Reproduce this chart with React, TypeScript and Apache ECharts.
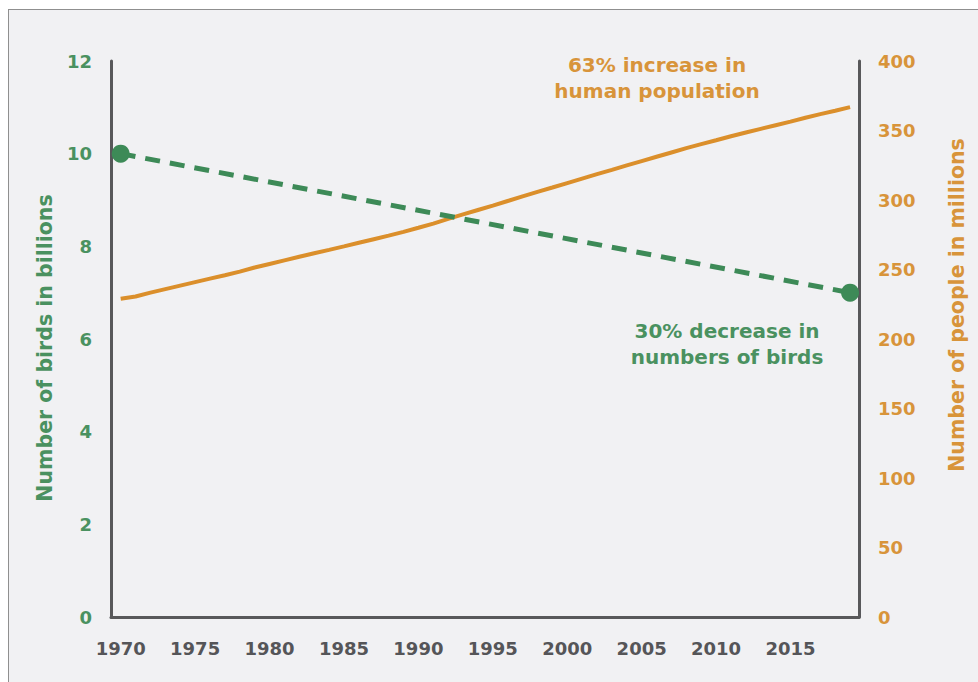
import React, { useEffect, useRef } from "react";
import * as echarts from "echarts";

const years: number[] = [
  1970, 1971, 1972, 1973, 1974, 1975, 1976, 1977, 1978, 1979,
  1980, 1981, 1982, 1983, 1984, 1985, 1986, 1987, 1988, 1989,
  1990, 1991, 1992, 1993, 1994, 1995, 1996, 1997, 1998, 1999,
  2000, 2001, 2002, 2003, 2004, 2005, 2006, 2007, 2008, 2009,
  2010, 2011, 2012, 2013, 2014, 2015, 2016, 2017, 2018, 2019,
];
const population: number[] = [
  229.0, 230.6, 233.4, 235.9, 238.4, 240.9, 243.4, 245.9, 248.5, 251.4,
  254.0, 256.6, 259.2, 261.7, 264.1, 266.6, 269.2, 271.8, 274.4, 277.1,
  280.0, 283.0, 286.4, 289.6, 292.8, 296.0, 299.3, 302.6, 305.9, 309.0,
  312.2, 315.4, 318.6, 321.7, 324.9, 328.0, 331.1, 334.2, 337.3, 340.2,
  343.0, 345.9, 348.6, 351.2, 353.8, 356.4, 359.2, 361.8, 364.2, 366.8,
];
const birdYears: number[] = [1970, 2019];
const birds: number[] = [10, 7];
const xTickLabels: number[] = [1970, 1975, 1980, 1985, 1990, 1995, 2000, 2005, 2010, 2015];

const GREEN = "#3d8a57";
const GREEN_TEXT = "#4a9160";
const ORANGE = "#db8f2b";
const ORANGE_TEXT = "#d8943a";
const AXIS = "#58585a";
const FONT = "DejaVu Sans";

export default function App() {
  const ref = useRef<HTMLDivElement>(null);
  useEffect(() => {
    if (!ref.current) return;
    const chart = echarts.init(ref.current, undefined, { renderer: "svg" });
    chart.setOption({
      animation: false,
      backgroundColor: "transparent",
      grid: { left: 111, right: 119, top: 61, bottom: 65 },
      xAxis: {
        type: "value",
        min: 1969.35,
        max: 2019.6,
        splitLine: { show: false },
        axisLine: { show: true, onZero: false, lineStyle: { color: AXIS, width: 3 } },
        axisTick: { show: false },
        axisLabel: {
          customValues: xTickLabels,
          color: "#555558",
          fontFamily: FONT,
          fontWeight: "bold",
          fontSize: 18,
          margin: 22,
          formatter: (v: number) => String(v),
        },
      },
      yAxis: [
        {
          type: "value",
          min: 0,
          max: 12,
          interval: 2,
          position: "left",
          splitLine: { show: false },
          axisLine: { show: true, lineStyle: { color: AXIS, width: 3 } },
          axisTick: { show: false },
          axisLabel: {
            color: GREEN_TEXT,
            fontFamily: FONT,
            fontWeight: "bold",
            fontSize: 18,
            margin: 19,
          },
        },
        {
          type: "value",
          min: 0,
          max: 400,
          interval: 50,
          position: "right",
          splitLine: { show: false },
          axisLine: { show: true, lineStyle: { color: AXIS, width: 3 } },
          axisTick: { show: false },
          axisLabel: {
            color: ORANGE_TEXT,
            fontFamily: FONT,
            fontWeight: "bold",
            fontSize: 18,
            margin: 19,
          },
        },
      ],
      graphic: [
        {
          type: "text",
          x: 45,
          y: 348,
          rotation: Math.PI / 2,
          style: {
            text: "Number of birds in billions",
            fill: GREEN_TEXT,
            font: `bold 20.5px "${FONT}"`,
            align: "center",
            verticalAlign: "middle",
          },
        },
        {
          type: "text",
          x: 957,
          y: 305,
          rotation: Math.PI / 2,
          style: {
            text: "Number of people in millions",
            fill: ORANGE_TEXT,
            font: `bold 20.5px "${FONT}"`,
            align: "center",
            verticalAlign: "middle",
          },
        },
        {
          type: "text",
          x: 657,
          y: 78,
          style: {
            text: "63% increase in\nhuman population",
            fill: ORANGE_TEXT,
            font: `bold 20px "${FONT}"`,
            lineHeight: 26,
            align: "center",
            verticalAlign: "middle",
          },
        },
        {
          type: "text",
          x: 727,
          y: 344,
          style: {
            text: "30% decrease in\nnumbers of birds",
            fill: GREEN_TEXT,
            font: `bold 20px "${FONT}"`,
            lineHeight: 26,
            align: "center",
            verticalAlign: "middle",
          },
        },
      ],
      series: [
        {
          type: "line",
          yAxisIndex: 1,
          data: years.map((y, i) => [y, population[i]]),
          showSymbol: false,
          lineStyle: { color: ORANGE, width: 4 },
          z: 2,
        },
        {
          type: "line",
          yAxisIndex: 0,
          data: birdYears.map((y, i) => [y, birds[i]]),
          symbol: "circle",
          symbolSize: 18,
          itemStyle: { color: GREEN },
          lineStyle: { color: GREEN, width: 5, type: [15, 10] },
          z: 3,
        },
      ],
    });
    return () => chart.dispose();
  }, []);

  return (
    <div style={{ position: "fixed", left: 0, top: 0, width: 978, height: 682, background: "#ffffff", overflow: "hidden" }}>
      <div
        style={{
          position: "absolute",
          left: 8,
          top: 9,
          width: 990,
          height: 690,
          background: "#f1f1f3",
          borderLeft: "1.5px solid #8f8f8f",
          borderTop: "1.5px solid #8f8f8f",
        }}
      />
      <div ref={ref} style={{ position: "absolute", left: 0, top: 0, width: 978, height: 682 }} />
    </div>
  );
}
